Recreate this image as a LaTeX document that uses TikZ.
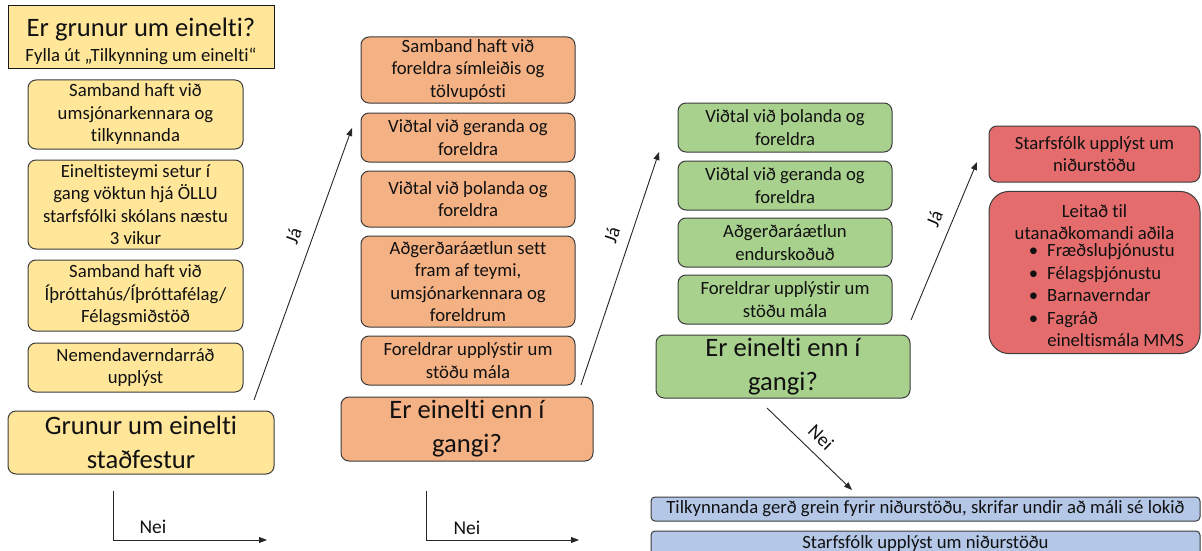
\documentclass[tikz,border=0pt]{standalone}
\usepackage{fontspec}
\setmainfont{Carlito}[Ligatures=NoCommon]
\usetikzlibrary{arrows.meta}
\definecolor{cyel}{HTML}{FFE699}
\definecolor{corg}{HTML}{F4B183}
\definecolor{cgrn}{HTML}{A9D18E}
\definecolor{cred}{HTML}{E46C6C}
\definecolor{cblu}{HTML}{B4C7E7}
\definecolor{cedge}{HTML}{3C3C3C}
\definecolor{ctext}{HTML}{111111}
\tikzset{
  box/.style={draw=cedge, line width=1pt, rounded corners=8pt, align=center, inner sep=0pt,
    text=ctext, font=\fontsize{18.7}{22.5}\selectfont},
  bigbox/.style={box, font=\fontsize{26.6}{34}\selectfont},
  arr/.style={draw=black!85, line width=0.9pt, -{Triangle[length=8pt,width=6pt]}},
  lbl/.style={font=\fontsize{19.5}{22}\selectfont, text=ctext},
}
\begin{document}
\begin{tikzpicture}[x=1pt,y=-1pt]
\useasboundingbox (0,0) rectangle (1202,551);
% ---- yellow column
\node[box, fill=cyel, rounded corners=0pt, draw=black!90, minimum width=266, minimum height=63] (top) at (141,37.5)
  {{\fontsize{26.6}{28}\selectfont\rule{0pt}{26pt}Er grunur um einelti?}\\[2pt]{\fontsize{18.7}{22}\selectfont Fylla út „Tilkynning um einelti“}};
\node[box, fill=cyel, minimum width=215, minimum height=69] (y1) at (135.5,114.5) {Samband haft við\\umsjónarkennara og\\tilkynnanda};
\node[box, fill=cyel, minimum width=215, minimum height=89] (y2) at (135.5,204.5) {Eineltisteymi setur í\\gang vöktun hjá ÖLLU\\starfsfólki skólans næstu\\3 vikur};
\node[box, fill=cyel, minimum width=215, minimum height=71] (y3) at (135.5,295.5) {Samband haft við\\Íþróttahús/Íþróttafélag/\\Félagsmiðstöð};
\node[box, fill=cyel, minimum width=215, minimum height=49] (y4) at (135.5,367.5) {Nemendaverndarráð\\upplýst};
\node[bigbox, fill=cyel, minimum width=266, minimum height=63] (yb) at (141,442.5) {Grunur um einelti\\staðfestur};
% ---- orange column
\node[box, fill=corg, minimum width=214, minimum height=66] (o1) at (468,70) {Samband haft við\\foreldra símleiðis og\\tölvupósti};
\node[box, fill=corg, minimum width=214, minimum height=49] (o2) at (468,137.5) {Viðtal við geranda og\\foreldra};
\node[box, fill=corg, minimum width=214, minimum height=56] (o3) at (468,199) {Viðtal við þolanda og\\foreldra};
\node[box, fill=corg, minimum width=214, minimum height=91] (o4) at (468,281.5) {Aðgerðaráætlun sett\\fram af teymi,\\umsjónarkennara og\\foreldrum};
\node[box, fill=corg, minimum width=214, minimum height=49] (o5) at (468,360.5) {Foreldrar upplýstir um\\stöðu mála};
\node[bigbox, fill=corg, minimum width=252, minimum height=64] (ob) at (467,429) {Er einelti enn í\\gangi?};
% ---- green column
\node[box, fill=cgrn, minimum width=214, minimum height=49] (g1) at (785,127.5) {Viðtal við þolanda og\\foreldra};
\node[box, fill=cgrn, minimum width=214, minimum height=49] (g2) at (785,185.5) {Viðtal við geranda og\\foreldra};
\node[box, fill=cgrn, minimum width=214, minimum height=49] (g3) at (785,242.5) {Aðgerðaráætlun\\endurskoðuð};
\node[box, fill=cgrn, minimum width=214, minimum height=49] (g4) at (785,299.5) {Foreldrar upplýstir um\\stöðu mála};
\node[bigbox, fill=cgrn, minimum width=254, minimum height=63] (gb) at (783,366.5) {Er einelti enn í\\gangi?};
% ---- red column
\node[box, fill=cred, minimum width=211, minimum height=56] (r1) at (1094.5,154) {Starfsfólk upplýst um\\niðurstöðu};
\node[box, fill=cred, rounded corners=20pt, minimum width=211, minimum height=159] (r2) at (1094.5,272.5)
  {\rule{0pt}{26pt}Leitað til\\utanaðkomandi aðila\\\hspace*{24pt}\begin{tabular}{@{}l@{\hspace{9pt}}l@{}}\textbullet & Fræðsluþjónustu\\ \textbullet & Félagsþjónustu\\ \textbullet & Barnaverndar\\ \textbullet & Fagráð\\ & eineltismála MMS\end{tabular}};
% ---- blue bars
\node[box, fill=cblu, rounded corners=4pt, minimum width=549, minimum height=24] (b1) at (925.5,509) {Tilkynnanda gerð grein fyrir niðurstöðu, skrifar undir að máli sé lokið};
\node[box, fill=cblu, rounded corners=4pt, minimum width=549, text height=17.5pt, text depth=18.5pt] (b2) at (925.5,549) {Starfsfólk upplýst um niðurstöðu};
% ---- connectors
\coordinate (j1s) at (254,400); \coordinate (j1e) at (352,128);
\coordinate (j2s) at (581,385); \coordinate (j2e) at (659,152);
\coordinate (j3s) at (911,320); \coordinate (j3e) at (977,162);
\coordinate (n3s) at (767,408); \coordinate (n3e) at (852,490);
\coordinate (n1a) at (113,491); \coordinate (n1b) at (113,540); \coordinate (n1c) at (267,540);
\coordinate (n2a) at (426,491); \coordinate (n2b) at (426,540); \coordinate (n2c) at (579,540);
\draw[arr] (j1s) -- node[lbl, sloped, above=8pt, pos=0.58] (ja1) {Já} (j1e);
\draw[arr] (j2s) -- node[lbl, sloped, above=8pt, pos=0.62] (ja2) {Já} (j2e);
\draw[arr] (j3s) -- node[lbl, sloped, above=7pt, pos=0.6] (ja3) {Já} (j3e);
\draw[arr] (n3s) -- node[lbl, sloped, above=6pt, pos=0.5] (nei3) {Nei} (n3e);
\draw[arr] (n1a) -- (n1b) -- (n1c);
\draw[arr] (n2a) -- (n2b) -- (n2c);
\node[lbl] (nei1) at (153,527) {Nei};
\node[lbl] (nei2) at (467,528) {Nei};
\end{tikzpicture}
\end{document}
